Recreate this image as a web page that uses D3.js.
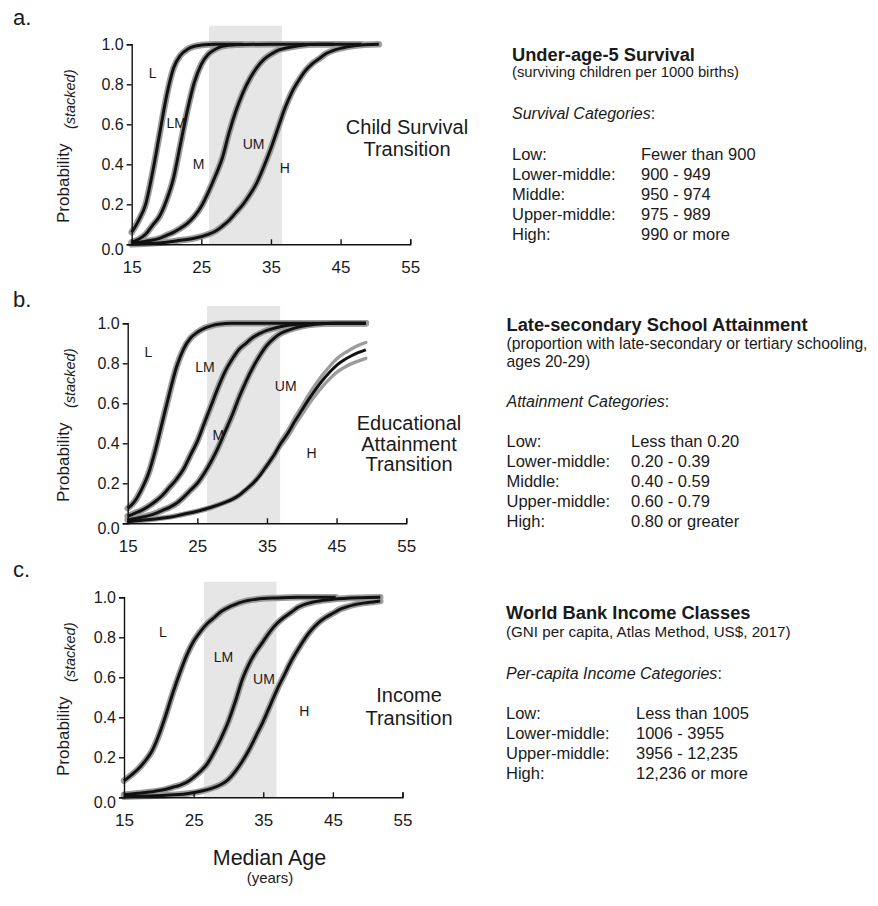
<!DOCTYPE html>
<html>
<head>
<meta charset="utf-8">
<script src="https://cdn.jsdelivr.net/npm/d3@7"></script>
<style>
  body { margin: 0; background: #fff; }
  text { font-family: "Liberation Sans", Arial, sans-serif; fill: #1a1a1a; }
</style>
</head>
<body>
<div id="chart"></div>
<script>
// axis ticks
var ticksX = [15, 25, 35, 45, 55];
var ticksY = [0, 0.2, 0.4, 0.6, 0.8, 1.0];

// a. child survival: boundary curves [median age, stacked probability]
var survL  = [[15,0.06],[16,0.12],[17,0.2],[18,0.36],[19,0.55],[20,0.74],[21,0.88],[22,0.945],[23,0.975],[24,0.99],[25,0.996],[27,1.0],[31,1.0]];
var survLM = [[15,0.01],[16,0.025],[17,0.05],[18,0.095],[19,0.14],[20,0.22],[21,0.33],[22,0.5],[23,0.67],[24,0.81],[25,0.9],[26,0.95],[27,0.975],[28,0.99],[30,0.998],[35,1.0],[44,1.0]];
var survM  = [[15,0.005],[17,0.015],[19,0.03],[20,0.045],[21,0.06],[22,0.08],[23,0.105],[24,0.14],[25,0.19],[26,0.26],[27,0.34],[28,0.43],[29,0.56],[30,0.67],[31,0.76],[32,0.83],[33,0.885],[34,0.925],[35,0.95],[36,0.97],[37,0.98],[39,0.993],[42,1.0],[48,1.0]];
var survUM = [[15,0.0],[18,0.005],[20,0.01],[22,0.02],[24,0.03],[26,0.05],[27,0.065],[28,0.09],[29,0.12],[30,0.16],[31,0.2],[32,0.25],[33,0.31],[34,0.39],[35,0.48],[36,0.58],[37,0.68],[38,0.76],[39,0.82],[40,0.87],[41,0.905],[42,0.93],[43,0.955],[44,0.97],[45,0.98],[47,0.993],[50.5,1.0]];
var survLabels = [["L",18.0,0.858],["LM",21.4,0.608],["M",24.6,0.40],["UM",32.5,0.50],["H",37.0,0.38]];
var survBand = [26.1, 36.6];

// b. educational attainment
var eduL  = [[15,0.075],[16,0.11],[17,0.17],[18,0.25],[19,0.37],[20,0.51],[21,0.65],[22,0.78],[23,0.87],[24,0.925],[25,0.955],[26,0.975],[27,0.987],[28,0.995],[30,1.0],[49.2,1.0]];
var eduLM = [[15,0.035],[16,0.05],[17,0.065],[18,0.085],[19,0.11],[20,0.14],[21,0.18],[22,0.22],[23,0.27],[24,0.34],[25,0.41],[26,0.5],[27,0.59],[28,0.68],[29,0.76],[30,0.82],[31,0.87],[32,0.9],[33,0.93],[34,0.95],[35,0.965],[36,0.975],[38,0.99],[40,0.997],[45,1.0],[49.2,1.0]];
var eduM  = [[15,0.017],[17,0.03],[19,0.05],[20,0.065],[21,0.08],[22,0.1],[23,0.13],[24,0.165],[25,0.2],[26,0.25],[27,0.31],[28,0.38],[29,0.46],[30,0.54],[31,0.63],[32,0.71],[33,0.78],[34,0.84],[35,0.89],[36,0.925],[37,0.95],[38,0.965],[40,0.985],[42,0.995],[45,1.0],[49.2,1.0]];
var eduUM = [[15,0.008],[17,0.015],[19,0.022],[21,0.03],[23,0.045],[25,0.06],[27,0.08],[29,0.105],[30,0.12],[31,0.14],[32,0.17],[33,0.2],[34,0.24],[35,0.29],[36,0.34],[37,0.4],[38,0.45],[39,0.51],[40,0.565],[41,0.62],[42,0.67],[43,0.715],[44,0.755],[45,0.79],[46,0.815],[47,0.835],[48,0.852],[49.2,0.867]];
var eduUMhi = [[15,0.013],[19,0.027],[23,0.05],[27,0.085],[29,0.11],[31,0.146],[33,0.208],[35,0.3],[36,0.352],[37,0.414],[38,0.466],[39,0.528],[40,0.585],[41,0.643],[42,0.695],[43,0.742],[44,0.784],[45,0.821],[46,0.848],[47,0.869],[48,0.888],[49.2,0.904]];
var eduUMlo = [[15,0.003],[19,0.017],[23,0.04],[27,0.075],[29,0.1],[31,0.134],[33,0.192],[35,0.279],[36,0.327],[37,0.385],[38,0.432],[39,0.49],[40,0.542],[41,0.595],[42,0.643],[43,0.685],[44,0.722],[45,0.755],[46,0.777],[47,0.796],[48,0.81],[49.2,0.825]];
var eduLabels = [["L",17.96,0.858],["LM",26.1,0.783],["M",28.0,0.442],["UM",37.7,0.686],["H",41.4,0.35]];
var eduBand = [26.4, 36.9];

// c. income
var incL  = [[15,0.083],[16,0.11],[17,0.14],[18,0.18],[19,0.23],[20,0.31],[21,0.41],[22,0.52],[23,0.62],[24,0.71],[25,0.78],[26,0.83],[27,0.87],[28,0.9],[29,0.93],[30,0.95],[31,0.965],[32,0.977],[34,0.99],[37,0.997],[40,1.0],[45.4,1.0]];
var incLM = [[15,0.013],[17,0.02],[19,0.028],[21,0.04],[22,0.05],[23,0.06],[24,0.075],[25,0.1],[26,0.13],[27,0.17],[28,0.23],[29,0.3],[30,0.38],[31,0.48],[32,0.59],[33,0.67],[34,0.73],[35,0.78],[36,0.83],[37,0.87],[38,0.9],[39,0.925],[40,0.95],[42,0.975],[45,0.99],[49,0.998],[51.8,1.0]];
var incUM = [[15,0.003],[18,0.006],[21,0.01],[24,0.018],[26,0.03],[28,0.05],[29,0.065],[30,0.09],[31,0.13],[32,0.18],[33,0.24],[34,0.31],[35,0.38],[36,0.46],[37,0.54],[38,0.61],[39,0.68],[40,0.74],[41,0.795],[42,0.84],[43,0.875],[44,0.9],[45,0.92],[46,0.94],[47,0.952],[48,0.962],[50,0.974],[51.8,0.982]];
var incLabels = [["L",20.6,0.828],["LM",29.3,0.70],["UM",35.1,0.59],["H",40.9,0.433]];
var incBand = [26.5, 36.9];

// right-hand text
var survTitle = "Under-age-5 Survival";
var survSub = ["(surviving children per 1000 births)"];
var survHead = "Survival Categories";
var survCats = ["Low:", "Lower-middle:", "Middle:", "Upper-middle:", "High:"];
var survRanges = ["Fewer than 900", "900 - 949", "950 - 974", "975 - 989", "990 or more"];

var eduTitle = "Late-secondary School Attainment";
var eduSub = ["(proportion with late-secondary or tertiary schooling,", "ages 20-29)"];
var eduHead = "Attainment Categories";
var eduCats = ["Low:", "Lower-middle:", "Middle:", "Upper-middle:", "High:"];
var eduRanges = ["Less than 0.20", "0.20 - 0.39", "0.40 - 0.59", "0.60 - 0.79", "0.80 or greater"];

var incTitle = "World Bank Income Classes";
var incSub = ["(GNI per capita, Atlas Method, US$, 2017)"];
var incHead = "Per-capita Income Categories";
var incCats = ["Low:", "Lower-middle:", "Upper-middle:", "High:"];
var incRanges = ["Less than 1005", "1006 - 3955", "3956 - 12,235", "12,236 or more"];

var panels = [
  { letter: "a.", letterY: 25, left: 131.7, top: 44.3, bandTop: 25.7, band: survBand,
    gray: [survL, survLM, survM, survUM], thin: [], black: [survL, survLM, survM, survUM],
    labels: survLabels, trans: ["Child Survival", "Transition"], transX: 407, transY: 134, transGap: 22,
    tx: 512, titleY: 60.5, subY: 76.5, subSize: 14.8, headY: 118.5, rowY: 160, valX: 641,
    title: survTitle, sub: survSub, head: survHead, cats: survCats, ranges: survRanges },
  { letter: "b.", letterY: 306.5, left: 127.7, top: 323.3, bandTop: 306, band: eduBand,
    gray: [eduL, eduLM, eduM], thin: [eduUMhi, eduUMlo], black: [eduL, eduLM, eduM, eduUM],
    labels: eduLabels, trans: ["Educational", "Attainment", "Transition"], transX: 409, transY: 430, transGap: 20.5,
    tx: 506.5, titleY: 331, subY: 348.5, subSize: 15.7, headY: 406.5, rowY: 447.3, valX: 631,
    title: eduTitle, sub: eduSub, head: eduHead, cats: eduCats, ranges: eduRanges },
  { letter: "c.", letterY: 576.5, left: 124, top: 597.3, bandTop: 581.7, band: incBand,
    gray: [incL, incLM, incUM], thin: [], black: [incL, incLM, incUM],
    labels: incLabels, trans: ["Income", "Transition"], transX: 409, transY: 702, transGap: 23,
    tx: 506, titleY: 619, subY: 637, subSize: 15.2, headY: 679, rowY: 719, valX: 636,
    title: incTitle, sub: incSub, head: incHead, cats: incCats, ranges: incRanges }
];

var svg = d3.select("#chart").append("svg").attr("width", 878).attr("height", 906);

panels.forEach(function(p) {
  var x = d3.scaleLinear().domain([15, 55]).range([p.left, p.left + 278.5]);
  var y = d3.scaleLinear().domain([0, 1]).range([p.top + 200, p.top]);
  var line = d3.line()
    .x(function(d) { return x(d[0]); })
    .y(function(d) { return y(d[1]); })
    .curve(d3.curveMonotoneX);

  var g = svg.append("g");

  // grey shading
  g.append("rect")
    .attr("x", x(p.band[0]))
    .attr("y", p.bandTop)
    .attr("width", x(p.band[1]) - x(p.band[0]))
    .attr("height", y(0) - p.bandTop)
    .attr("fill", "#e6e6e6");

  // grey halo, then black curves
  g.selectAll(".gray").data(p.gray).enter().append("path")
    .attr("d", line).attr("fill", "none")
    .attr("stroke", "#9c9c9c").attr("stroke-width", 6.5).attr("stroke-linecap", "round");
  g.selectAll(".thin").data(p.thin).enter().append("path")
    .attr("d", line).attr("fill", "none")
    .attr("stroke", "#9c9c9c").attr("stroke-width", 3.4).attr("stroke-linecap", "round");
  g.selectAll(".black").data(p.black).enter().append("path")
    .attr("d", line).attr("fill", "none")
    .attr("stroke", "#111").attr("stroke-width", 3);

  // axes
  var ay = g.append("g")
    .attr("transform", "translate(" + p.left + ",0)")
    .call(d3.axisLeft(y).tickValues(ticksY).tickFormat(d3.format(".1f")).tickSize(5).tickPadding(3));
  ay.attr("font-size", 16).attr("font-family", null);
  ay.selectAll("text").filter(function(d) { return d === 0; }).attr("dy", "0.66em");

  var ax = g.append("g")
    .attr("transform", "translate(0," + y(0) + ")")
    .call(d3.axisBottom(x).tickValues(ticksX).tickSize(-5).tickPadding(17));
  ax.attr("font-size", 17).attr("font-family", null);

  g.selectAll(".domain, .tick line").attr("stroke", "#111").attr("stroke-width", 1.4);

  // category labels inside the plot
  g.selectAll(".lab").data(p.labels).enter().append("text")
    .attr("x", function(d) { return x(d[1]); })
    .attr("y", function(d) { return y(d[2]); })
    .attr("dy", "0.35em")
    .attr("text-anchor", "middle")
    .style("font-size", "14px")
    .text(function(d) { return d[0]; });

  // y label
  var mid = p.top + 100;
  g.append("text")
    .attr("transform", "translate(69," + (mid + 39) + ") rotate(-90)")
    .attr("text-anchor", "middle").style("font-size", "17px")
    .text("Probability");
  g.append("text")
    .attr("transform", "translate(75," + (mid - 45) + ") rotate(-90)")
    .attr("text-anchor", "middle").style("font-size", "14.5px").style("font-style", "italic")
    .text("(stacked)");

  // panel letter
  g.append("text").attr("x", 13).attr("y", p.letterY).style("font-size", "22px").text(p.letter);

  // transition name
  g.selectAll(".tr").data(p.trans).enter().append("text")
    .attr("x", p.transX)
    .attr("y", function(d, i) { return p.transY + i * p.transGap; })
    .attr("text-anchor", "middle").style("font-size", "20px")
    .text(function(d) { return d; });

  // right-hand description
  g.append("text").attr("x", p.tx).attr("y", p.titleY)
    .style("font-size", "18.3px").style("font-weight", "bold").text(p.title);
  g.selectAll(".sub").data(p.sub).enter().append("text")
    .attr("x", p.tx).attr("y", function(d, i) { return p.subY + i * 18; })
    .style("font-size", p.subSize + "px").text(function(d) { return d; });
  var h = g.append("text").attr("x", p.tx).attr("y", p.headY).style("font-size", "16px");
  h.append("tspan").style("font-style", "italic").text(p.head);
  h.append("tspan").text(":");
  g.selectAll(".cat").data(p.cats).enter().append("text")
    .attr("x", p.tx).attr("y", function(d, i) { return p.rowY + i * 20; })
    .style("font-size", "16.5px").text(function(d) { return d; });
  g.selectAll(".rng").data(p.ranges).enter().append("text")
    .attr("x", p.valX).attr("y", function(d, i) { return p.rowY + i * 20; })
    .style("font-size", "16.5px").text(function(d) { return d; });
});

// shared x label
svg.append("text").attr("x", 269.5).attr("y", 865).attr("text-anchor", "middle")
  .style("font-size", "21.5px").text("Median Age");
svg.append("text").attr("x", 270).attr("y", 883).attr("text-anchor", "middle")
  .style("font-size", "15px").text("(years)");
</script>
</body>
</html>
